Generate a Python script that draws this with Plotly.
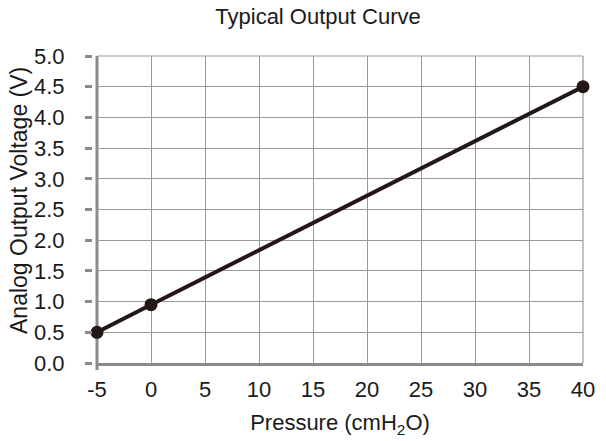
import plotly.graph_objects as go

pressure = [-5, 0, 40]
voltage = [0.5, 0.95, 4.5]
x_ticks = [-5, 0, 5, 10, 15, 20, 25, 30, 35, 40]
x_tick_labels = [str(v) for v in x_ticks]
y_ticks = [0.0, 0.5, 1.0, 1.5, 2.0, 2.5, 3.0, 3.5, 4.0, 4.5, 5.0]
y_tick_labels = [f"{v:.1f}" for v in y_ticks]

W, H = 606, 441
ML, MR, MT, MB = 60, 23, 56, 78
plot_w = W - ML - MR
plot_h = H - MT - MB
d0 = (97 - ML) / plot_w
ypos = (92 - ML) / plot_w

font = "Liberation Sans, Arial, sans-serif"
grid = "#999999"
axc = "#8a8a8a"

fig = go.Figure()
fig.add_trace(go.Scatter(
    x=pressure, y=voltage, mode="lines+markers",
    line=dict(color="#231815", width=4),
    marker=dict(color="#231815", size=13),
    showlegend=False, cliponaxis=False,
))

fig.update_layout(
    width=W, height=H,
    margin=dict(l=ML, r=MR, t=MT, b=MB),
    paper_bgcolor="white", plot_bgcolor="white",
    font=dict(family=font, color="#1a1a1a", size=22),
    title=dict(text="Typical Output Curve", x=318 / W, xanchor="center",
               xref="container", yref="container",
               y=1 - 9 / H, yanchor="top", font=dict(size=22, family=font)),
    xaxis=dict(
        domain=[d0, 1], range=[x_ticks[0], x_ticks[-1]], automargin=False,
        tickvals=x_ticks, ticktext=x_tick_labels, ticks="",
        showline=True, linewidth=3, linecolor=axc,
        showgrid=True, gridcolor=grid, gridwidth=1.2, zeroline=False,
        tickfont=dict(size=22), ticklabelstandoff=5,
        title=dict(text="Pressure (cmH<sub>2</sub>O)", font=dict(size=22), standoff=14),
    ),
    yaxis=dict(
        anchor="free", position=ypos, range=[y_ticks[0], y_ticks[-1]], automargin=False,
        tickvals=y_ticks, ticktext=y_tick_labels, ticks="outside", ticklen=7,
        tickwidth=3, tickcolor=axc, showline=False,
        showgrid=True, gridcolor=grid, gridwidth=1.2, zeroline=False,
        tickfont=dict(size=22), ticklabelstandoff=16,
    ),
    annotations=[dict(
        text="Analog Output Voltage (V)", textangle=-90,
        xref="paper", yref="paper", x=(19 - ML) / plot_w, y=(363 - 201) / plot_h,
        xanchor="center", yanchor="middle", showarrow=False,
        font=dict(size=23, family=font, color="#1a1a1a"),
    )],
)

# left axis line (extends slightly below the plot area)
fig.add_shape(type="line", xref="paper", yref="paper",
              x0=d0, x1=d0, y0=-7 / plot_h, y1=1,
              line=dict(color=axc, width=3), layer="below")
# thin top and right frame
fig.add_shape(type="line", xref="paper", yref="paper", x0=d0, x1=1, y0=1, y1=1,
              line=dict(color=grid, width=1.2), layer="below")
fig.add_shape(type="line", xref="paper", yref="paper", x0=1, x1=1, y0=0, y1=1,
              line=dict(color=grid, width=1.2), layer="below")

fig.write_html("out.html", config={"displayModeBar": False},
               post_script="document.body.style.margin='0';")
